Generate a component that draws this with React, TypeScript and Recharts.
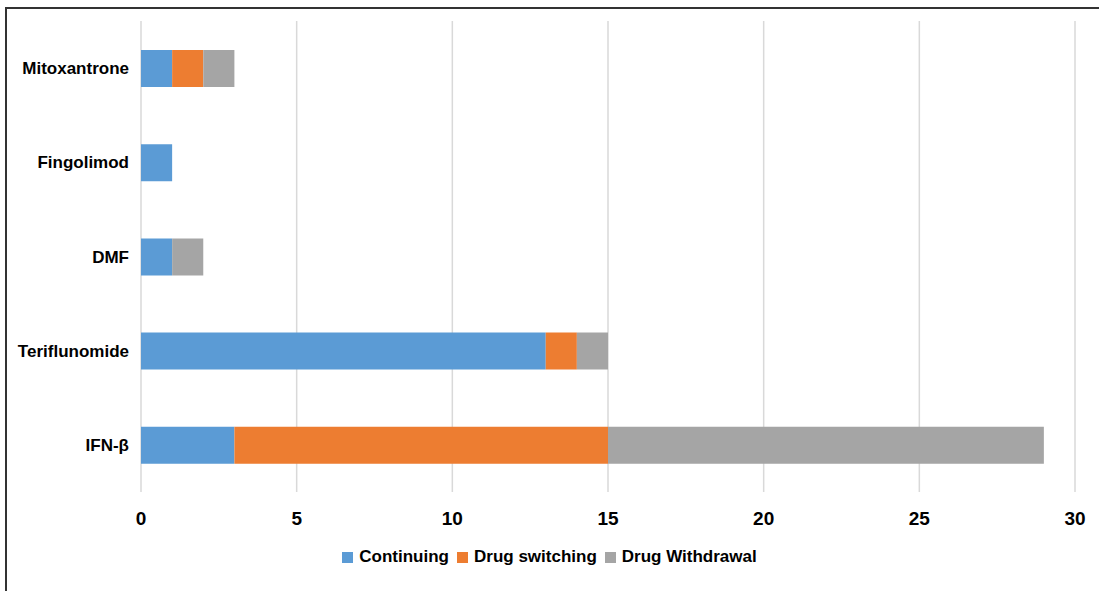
import { BarChart, Bar, XAxis, YAxis, CartesianGrid, Legend } from 'recharts';

const drugs = ['Mitoxantrone', 'Fingolimod', 'DMF', 'Teriflunomide', 'IFN-β'];
const continuing = [1, 1, 1, 13, 3];
const drugSwitching = [1, 0, 0, 1, 12];
const drugWithdrawal = [1, 0, 1, 1, 14];
const xTicks = [0, 5, 10, 15, 20, 25, 30];

const series = [
    { key: 'continuing', name: 'Continuing', color: '#5b9bd5' },
    { key: 'switching', name: 'Drug switching', color: '#ed7d31' },
    { key: 'withdrawal', name: 'Drug Withdrawal', color: '#a5a5a5' },
];

const data = drugs.map((drug, i) => ({
    drug,
    continuing: continuing[i],
    switching: drugSwitching[i],
    withdrawal: drugWithdrawal[i],
}));

const font = '"Liberation Sans", Arial, sans-serif';

function LegendRow() {
    return (
        <div style={{ display: 'flex', justifyContent: 'center', gap: 8, fontFamily: font, fontWeight: 700, fontSize: 17, color: '#000' }}>
            {series.map((s) => (
                <span key={s.key} style={{ display: 'flex', alignItems: 'center' }}>
                    <span style={{ width: 11, height: 11, background: s.color, marginRight: 6, display: 'inline-block' }} />
                    {s.name}
                </span>
            ))}
        </div>
    );
}

export default function App() {
    return (
        <div style={{ position: 'absolute', left: 0, top: 0, width: 1099, height: 591, background: '#fff' }}>
            <div style={{ position: 'absolute', left: 5, top: 7, right: 0, bottom: 0, borderTop: '2px solid #333', borderLeft: '2px solid #333' }} />
            <BarChart
                width={1099}
                height={591}
                data={data}
                layout="vertical"
                margin={{ top: 21, right: 24, bottom: 37, left: 0 }}
                barSize={37}
            >
                <CartesianGrid horizontal={false} stroke="#d9d9d9" strokeWidth={1.5} />
                <XAxis
                    type="number"
                    domain={[0, 30]}
                    ticks={xTicks}
                    axisLine={false}
                    tickLine={false}
                    tickSize={0}
                    tickMargin={20}
                    height={42}
                    tick={{ fontFamily: font, fontWeight: 700, fontSize: 19, fill: '#000' }}
                />
                <YAxis
                    type="category"
                    dataKey="drug"
                    width={141}
                    axisLine={false}
                    tickLine={false}
                    tickSize={0}
                    tickMargin={12}
                    tick={{ fontFamily: font, fontWeight: 700, fontSize: 17, fill: '#000' }}
                />
                <Legend verticalAlign="bottom" content={() => <LegendRow />} wrapperStyle={{ bottom: 24, left: 0, width: 1099 }} />
                {series.map((s) => (
                    <Bar key={s.key} dataKey={s.key} name={s.name} stackId="a" fill={s.color} isAnimationActive={false} />
                ))}
            </BarChart>
        </div>
    );
}
